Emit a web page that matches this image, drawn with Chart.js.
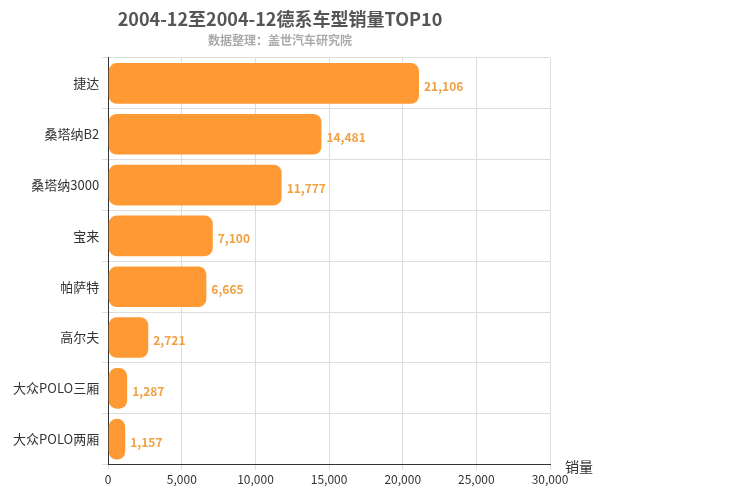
<!DOCTYPE html>
<html><head><meta charset="utf-8">
<script src="https://cdn.jsdelivr.net/npm/chart.js@4/dist/chart.umd.min.js"></script>
<style>body{margin:0;background:#fff}</style>
</head><body><canvas id="chart" width="750" height="500"></canvas>
<script>
const categories = ["捷达", "桑塔纳B2", "桑塔纳3000", "宝来", "帕萨特", "高尔夫", "大众POLO三厢", "大众POLO两厢"];
const sales = [21106, 14481, 11777, 7100, 6665, 2721, 1287, 1157];
const xTicks = [0, 5000, 10000, 15000, 20000, 25000, 30000];

const font = "'Microsoft YaHei','Noto Sans CJK SC',sans-serif";

const extras = {
  id: "extras",
  afterDatasetsDraw(c) {
    const ctx = c.ctx;
    ctx.save();
    ctx.font = "bold 12px " + font;
    ctx.fillStyle = "#F0A040";
    ctx.textBaseline = "middle";
    c.getDatasetMeta(0).data.forEach((bar, i) => {
      ctx.fillText(sales[i].toLocaleString("en-US"), bar.x + 5, bar.y + 3);
    });
    ctx.fillStyle = "#333";
    ctx.font = "14px " + font;
    ctx.fillText("销量", c.chartArea.right + 15, c.chartArea.bottom + 2);
    ctx.restore();
  }
};

new Chart(document.getElementById("chart"), {
  type: "bar",
  data: {
    labels: categories,
    datasets: [{
      data: sales,
      backgroundColor: "#FF9933",
      borderRadius: 8,
      borderSkipped: false,
      categoryPercentage: 0.8,
      barPercentage: 1,
    }],
  },
  options: {
    indexAxis: "y",
    responsive: false,
    animation: false,
    layout: { padding: { left: 10, right: 200, top: 0, bottom: 10 } },
    scales: {
      x: {
        min: 0, max: 30000,
        afterBuildTicks: (s) => { s.ticks = xTicks.map((v) => ({ value: v })); },
        ticks: { color: "#333", font: { size: 12, family: font }, callback: (v) => v.toLocaleString("en-US") },
        grid: { color: "#ddd", tickLength: 5 },
        border: { color: "#333" },
      },
      y: {
        ticks: { color: "#333", font: { size: 13, family: font } },
        grid: { color: "#ddd", offset: true, tickLength: 6 },
        border: { color: "#333" },
      },
    },
    plugins: {
      legend: { display: false },
      tooltip: { enabled: false },
      title: { display: true, text: "2004-12至2004-12德系车型销量TOP10", color: "#555", font: { size: 18, weight: "bold", family: font }, padding: { top: 8, bottom: 4 } },
      subtitle: { display: true, text: "数据整理：盖世汽车研究院", color: "#aaa", font: { size: 12, weight: "bold", family: font }, padding: { bottom: 10 } },
    },
  },
  plugins: [extras],
});
</script>
</body></html>
